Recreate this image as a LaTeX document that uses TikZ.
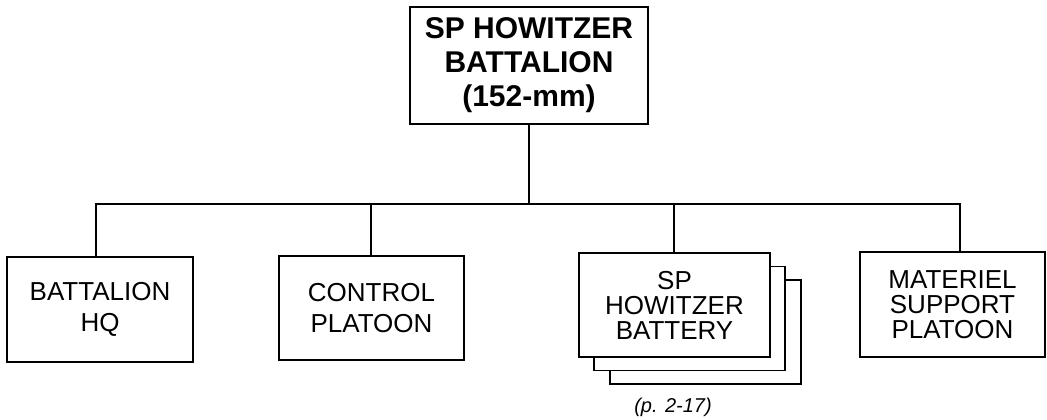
\documentclass[tikz,border=0pt]{standalone}
\usepackage{fontspec}
\setmainfont{Liberation Sans}
\begin{document}
\begin{tikzpicture}[x=1pt,y=-1pt,
  unit/.style={draw, line width=1.8pt, fill=white, align=center, inner sep=0pt,
    font=\fontsize{26}{31}\selectfont},
  unitthree/.style={unit, font=\fontsize{26}{25}\selectfont},
  topunit/.style={unit, font=\fontsize{30}{34}\selectfont\bfseries},
  link/.style={line width=1.8pt}]
\useasboundingbox (0,0) rectangle (1047,420);
\node[topunit, minimum width=238pt, minimum height=117pt] (top) at (529,65.5)
  {SP HOWITZER\\BATTALION\\(152-mm)};
\node[unit, minimum width=186pt, minimum height=105pt] (hq) at (100,309.5)
  {BATTALION\\HQ};
\node[unit, minimum width=185pt, minimum height=104pt] (ctl) at (371.5,308)
  {CONTROL\\PLATOON};
\node[unit, minimum width=191pt, minimum height=104pt] (bat3) at (705.5,332) {};
\node[unit, minimum width=191pt, minimum height=104pt] (bat2) at (689.5,318.5) {};
\node[unitthree, minimum width=191pt, minimum height=104pt] (bat) at (674.5,305)
  {SP\\HOWITZER\\BATTERY};
\node[unitthree, minimum width=185pt, minimum height=105pt] (mat) at (952.5,304.5)
  {MATERIEL\\SUPPORT\\PLATOON};
\node[font=\fontsize{20}{24}\selectfont\itshape] (ref) at (673,407) {(p. 2-17)};
\path (top.south) ++(0,79) coordinate (bj);
\draw[link] (top.south) -- (bj);
\draw[link] ([xshift=-4pt]hq.north) |- (bj) -| ([xshift=7.5pt]mat.north);
\draw[link] ([xshift=-0.5pt]ctl.north) -- ([xshift=-0.5pt]ctl.north |- bj);
\draw[link] ([xshift=-0.5pt]bat.north) -- ([xshift=-0.5pt]bat.north |- bj);
\end{tikzpicture}
\end{document}
